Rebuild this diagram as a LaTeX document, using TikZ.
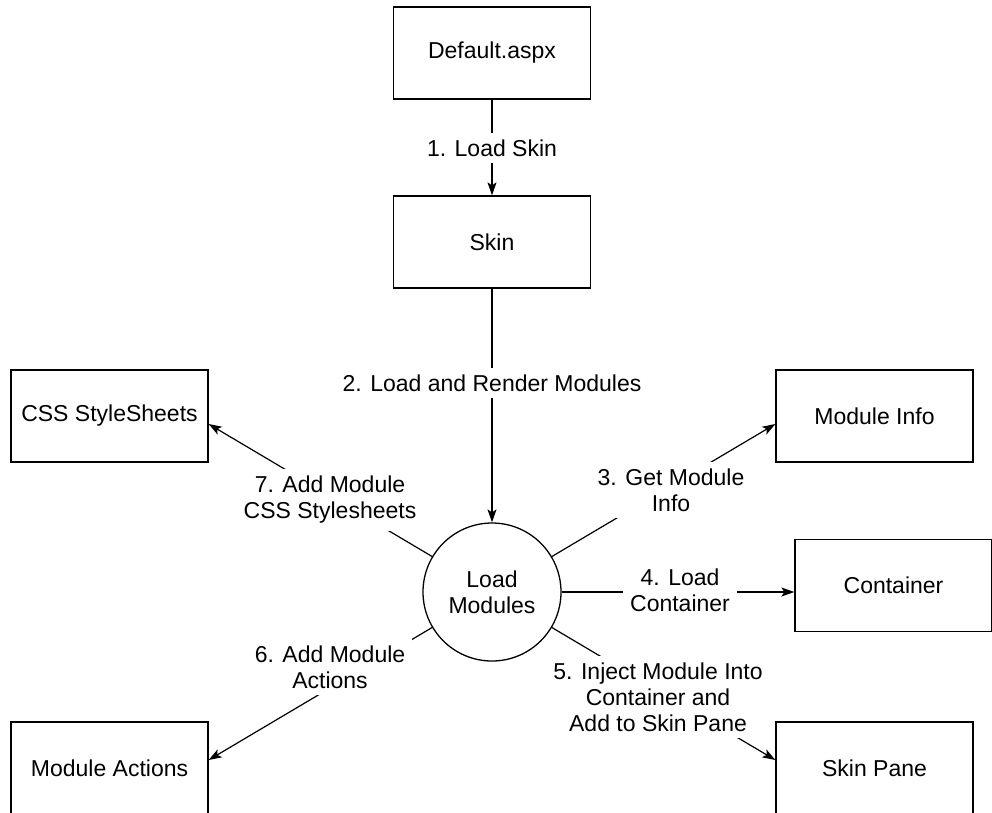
\documentclass[tikz,border=0pt]{standalone}
\usepackage{fontspec}
\setmainfont{Liberation Sans}
\usetikzlibrary{arrows.meta}
\newcommand\dfont{\fontsize{23}{26}\selectfont}
\begin{document}
\begin{tikzpicture}[x=1pt,y=-1pt,
  box/.style={draw,line width=1.3pt,minimum width=197pt,minimum height=92pt,inner sep=0pt,font=\dfont},
  proc/.style={draw,circle,line width=1.3pt,minimum size=138pt,inner sep=0pt,align=center,font=\dfont},
  lab/.style={fill=white,inner sep=7pt,align=center,font=\dfont},
  conn/.style={line width=1.2pt,-{Stealth[length=13pt,width=9pt,inset=3pt]}}]
\useasboundingbox (0,0) rectangle (992,812);
\clip (0,0) rectangle (992,812);
% nodes
\node[box] (def) at (492,53) {Default.aspx};
\node[box] (skin) at (492,242) {Skin};
\node[proc] (lm) at (492,592) {Load\\Modules};
\node[box] (css) at (109.5,416) {CSS StyleSheets};
\node[box] (info) at (874.5,416) {Module Info};
\node[box] (cont) at (893.5,585.5) {Container};
\node[box] (act) at (109.5,768) {Module Actions};
\node[box] (pane) at (874.5,768) {Skin Pane};
% connectors
\draw[conn] (def.south) -- (skin.north);
\draw[conn] (skin.south) -- (lm.north);
\draw[conn] (lm) -- ([yshift=-8pt]info.west);
\draw[conn] (lm.east) -- (lm.east -| cont.west);
\draw[conn] (lm) -- ([yshift=8pt]pane.west);
\draw[conn] (lm) -- ([yshift=8pt]act.east);
\draw[conn] (lm) -- ([yshift=-8pt]css.east);
% labels
\node[lab] (l1) at (492,148) {1. Load Skin};
\node[lab] (l2) at (492,383) {2. Load and Render Modules};
\node[lab] (l3) at (671,490) {3. Get Module\\Info};
\node[lab] (l4) at (680,590) {4. Load\\Container};
\node[lab] (l5) at (658,697) {5. Inject Module Into\\Container and\\Add to Skin Pane};
\node[lab] (l6) at (330,667) {6. Add Module\\Actions};
\node[lab] (l7) at (330,500) {7. Add Module\\CSS Stylesheets};
\end{tikzpicture}
\end{document}
